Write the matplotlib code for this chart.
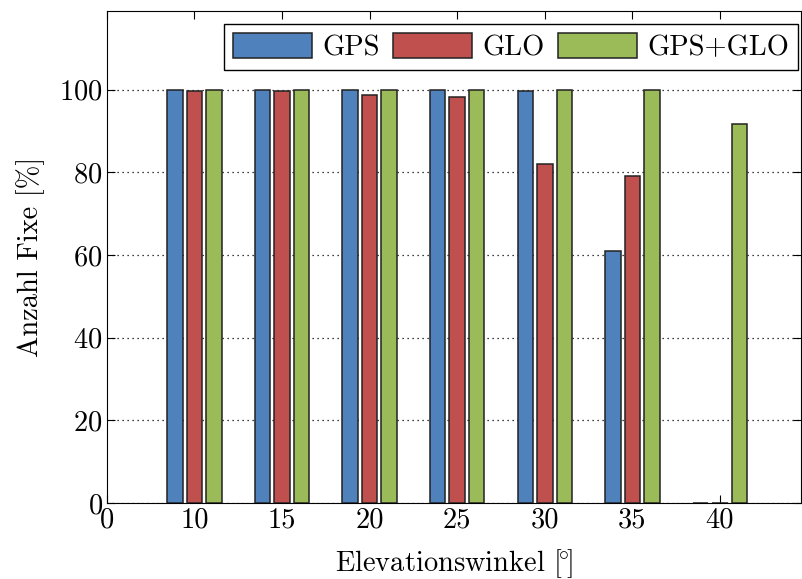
import matplotlib
matplotlib.use('Agg')
import matplotlib.pyplot as plt
import numpy as np

plt.rcParams['font.family'] = 'serif'
plt.rcParams['font.serif'] = ['cmr10']
plt.rcParams['mathtext.fontset'] = 'cm'
plt.rcParams['axes.formatter.use_mathtext'] = True

# data
tick_labels = ['0', '10', '15', '20', '25', '30', '35', '40']
gps = [100, 100, 100, 100, 99.7, 61, 0]
glo = [99.7, 99.6, 98.6, 98.3, 82, 79, 0]
gps_glo = [100, 100, 100, 100, 100, 100, 91.7]
names = ['GPS', 'GLO', 'GPS+GLO']
colors = ['#4F81BD', '#C0504D', '#9BBB59']

fs = 20.5
fig = plt.figure(figsize=(8.03, 5.79), dpi=100)
ax = fig.add_axes([0.133, 0.131, 0.864, 0.85])

ind = np.arange(1, len(gps) + 1)
width = 0.176
step = 0.222
bars = []
for i, (vals, c) in enumerate(zip([gps, glo, gps_glo], colors)):
    b = ax.bar(ind + (i - 1) * step, vals, width, color=c, edgecolor='#222222',
               linewidth=1.1, zorder=3)
    bars.append(b)

ax.set_xlim(0, 7.92)
ax.set_ylim(0, 119)
ax.set_xticks(np.arange(len(tick_labels)))
ax.set_xticklabels(tick_labels)
ax.set_yticks([0, 20, 40, 60, 80, 100])
ax.yaxis.grid(True, linestyle=(0, (1, 3)), color='black', linewidth=0.9, zorder=0)
ax.tick_params(direction='in', top=True, right=True, labelsize=fs, length=6, pad=3)
ax.set_ylabel(r'Anzahl Fixe [%]', fontsize=fs, labelpad=10)
ax.set_xlabel(r'Elevationswinkel $[\!^{\circ}\!]$', fontsize=fs, labelpad=10)

leg = ax.legend([b[0] for b in bars], names, loc='upper right', ncol=3, fontsize=fs,
                fancybox=False, framealpha=1, edgecolor='black', handlelength=2.8,
                handleheight=1.0, columnspacing=0.45, handletextpad=0.35,
                borderpad=0.3, borderaxespad=0, bbox_to_anchor=(0.9957, 0.9736))
leg.get_frame().set_linewidth(1.0)

plt.savefig('out.png', format='png')
